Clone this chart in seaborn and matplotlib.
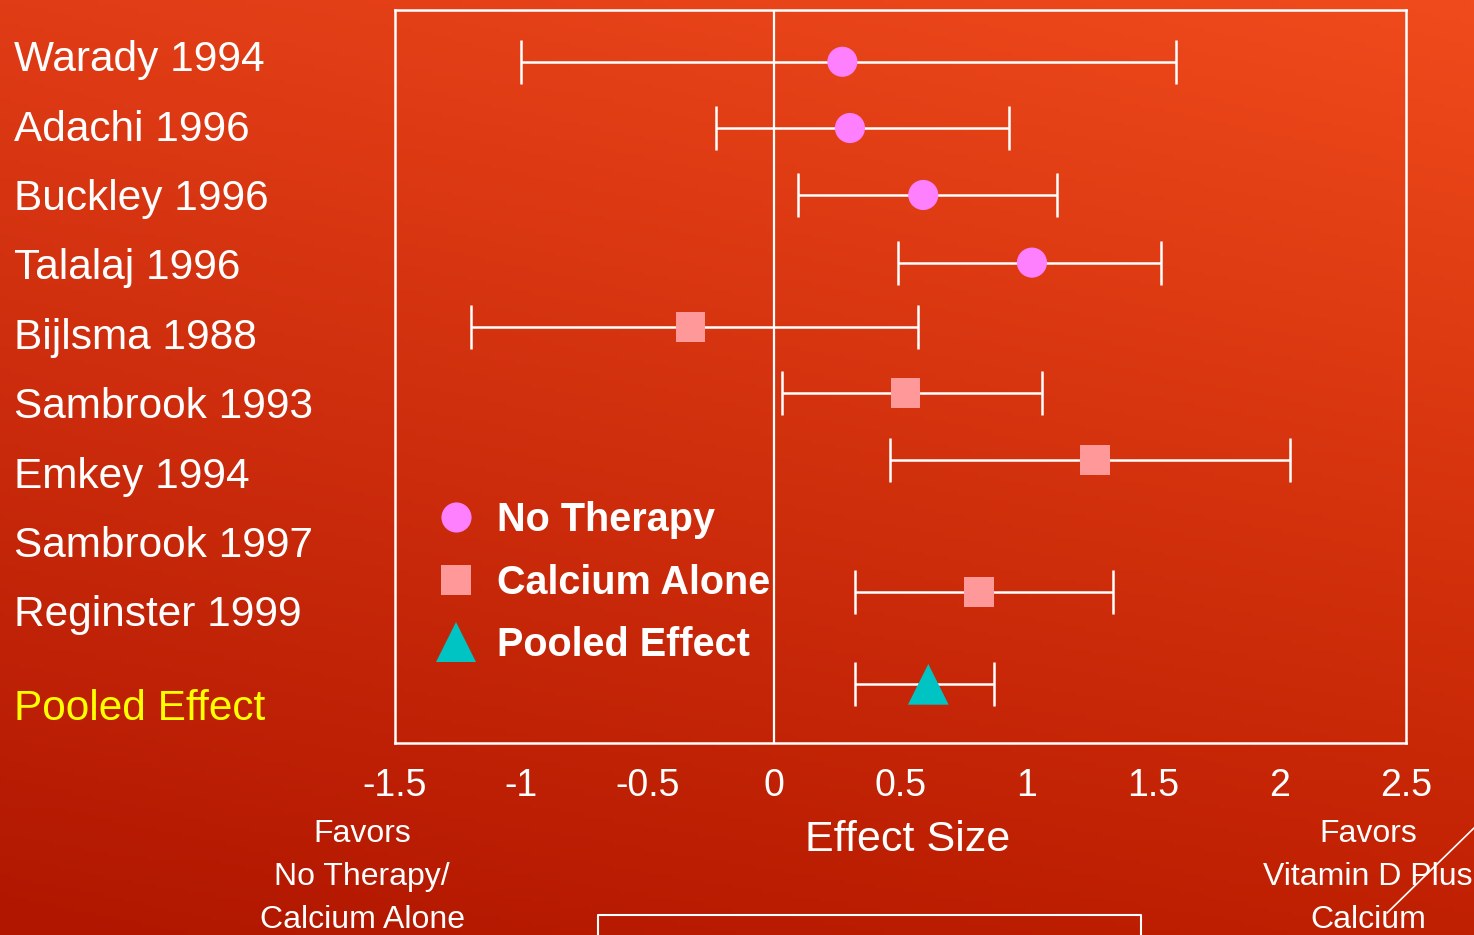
import numpy as np
import pandas as pd
import matplotlib
matplotlib.use('Agg')
import matplotlib.pyplot as plt
import seaborn as sns
from matplotlib.lines import Line2D

# study labels shown on the left, with their row positions
study_labels = ['Warady 1994', 'Adachi 1996', 'Buckley 1996', 'Talalaj 1996', 'Bijlsma 1988',
                'Sambrook 1993', 'Emkey 1994', 'Sambrook 1997', 'Reginster 1999', 'Pooled Effect']
label_rows = [0.72, 1.74, 2.74, 3.74, 4.75, 5.75, 6.76, 7.76, 8.76, 10.13]

# studies with an estimate drawn in the plot
studies = ['Warady 1994', 'Adachi 1996', 'Buckley 1996', 'Talalaj 1996', 'Bijlsma 1988',
           'Sambrook 1993', 'Emkey 1994', 'Reginster 1999', 'Pooled Effect']
effect = [0.27, 0.30, 0.59, 1.02, -0.33, 0.52, 1.27, 0.81, 0.61]
ci_low = [-1.00, -0.23, 0.095, 0.49, -1.20, 0.03, 0.46, 0.32, 0.32]
ci_high = [1.59, 0.93, 1.12, 1.53, 0.57, 1.06, 2.04, 1.34, 0.87]
rows = [0.75, 1.71, 2.68, 3.66, 4.59, 5.55, 6.52, 8.43, 9.77]
group = ['No Therapy'] * 4 + ['Calcium Alone'] * 4 + ['Pooled Effect']

xticks = [-1.5, -1, -0.5, 0, 0.5, 1, 1.5, 2, 2.5]
xtick_labels = ['-1.5', '-1', '-0.5', '0', '0.5', '1', '1.5', '2', '2.5']

df = pd.DataFrame({'study': studies, 'effect': effect, 'low': ci_low, 'high': ci_high,
                   'row': rows, 'group': group})

sns.set_theme(style='white')
plt.rcParams['font.family'] = ['Liberation Sans', 'DejaVu Sans']

fig = plt.figure(figsize=(14.74, 9.35), dpi=100)

# red gradient background
bg = fig.add_axes([0, 0, 1, 1], zorder=-10)
h, w = 200, 300
yy, xx = np.mgrid[0:1:h * 1j, 0:1:w * 1j]
tl = np.array([224, 60, 22]) / 255
tr = np.array([240, 75, 28]) / 255
bl = np.array([176, 22, 0]) / 255
br = np.array([192, 32, 2]) / 255
img = ((1 - yy)[..., None] * ((1 - xx)[..., None] * tl + xx[..., None] * tr)
       + yy[..., None] * ((1 - xx)[..., None] * bl + xx[..., None] * br))
bg.imshow(img, aspect='auto', extent=[0, 1, 0, 1], origin='upper')
bg.set_axis_off()

ax = fig.add_axes([395 / 1474, 1 - 743 / 935, (1406 - 395) / 1474, (743 - 10) / 935])
ax.set_facecolor('none')

colors = {'No Therapy': '#FF80FF', 'Calcium Alone': '#FF9999', 'Pooled Effect': '#00C3C3'}
markers = {'No Therapy': 'o', 'Calcium Alone': 's', 'Pooled Effect': '^'}
sizes = {'No Therapy': 470, 'Calcium Alone': 450, 'Pooled Effect': 860}

# confidence intervals
ax.errorbar(df['effect'], df['row'],
            xerr=[df['effect'] - df['low'], df['high'] - df['effect']],
            fmt='none', ecolor='white', elinewidth=1.8, capsize=15.5, capthick=1.8, zorder=2)
ax.axvline(0, color='white', lw=1.6, zorder=1)

for g in ['No Therapy', 'Calcium Alone', 'Pooled Effect']:
    sub = df[df['group'] == g]
    sns.scatterplot(data=sub, x='effect', y='row', marker=markers[g], color=colors[g],
                    s=sizes[g], edgecolor='none', linewidth=0, ax=ax, zorder=3, legend=False)

ax.set_xlim(-1.5, 2.5)
ax.set_ylim(10.62, 0)
ax.set_xticks(xticks)
ax.set_xticklabels(xtick_labels)
ax.set_yticks([])
ax.set_xlabel('')
ax.set_ylabel('')
ax.tick_params(axis='x', direction='in', length=16, width=1.6, colors='white',
               labelsize=27, pad=18, labelcolor='white')
for t in ax.xaxis.get_major_ticks():
    if t.get_loc() in (-1.5, 0, 2.5):
        t.tick1line.set_visible(False)
for s in ax.spines.values():
    s.set_visible(True)
    s.set_color('white')
    s.set_linewidth(1.8)

# left study labels
for lab, r in zip(study_labels, label_rows):
    c = '#FFFF00' if lab == 'Pooled Effect' else 'white'
    ax.text(-0.377, r, lab, transform=ax.get_yaxis_transform(), ha='left', va='center',
            fontsize=30.5, color=c)

# legend
handles = [Line2D([], [], ls='none', marker=markers[g], color=colors[g], markeredgewidth=0,
                  markersize=np.sqrt(sizes[g])) for g in colors]
leg = ax.legend(handles, list(colors), loc='upper left', bbox_to_anchor=(0.042, 0.33),
                frameon=False, handlelength=0.95, handletextpad=0.55, labelspacing=0.62,
                borderpad=0, borderaxespad=0, prop={'weight': 'bold', 'size': 28.5})
for t in leg.get_texts():
    t.set_color('white')

fig.text(908 / 1474, 1 - 840 / 935, 'Effect Size', ha='center', va='center', fontsize=31,
         color='white')
fig.text(362 / 1474, 1 - 877 / 935, 'Favors\nNo Therapy/\nCalcium Alone', ha='center',
         va='center', fontsize=23, color='white', linespacing=1.57)
fig.text(1368 / 1474, 1 - 877 / 935, 'Favors\nVitamin D Plus\nCalcium', ha='center',
         va='center', fontsize=23, color='white', linespacing=1.57)

# decorative shapes from the slide
fig.add_artist(Line2D([1387 / 1474, 1], [1 - 913 / 935, 1 - 828 / 935], color='white', lw=1.2))
fig.add_artist(Line2D([598 / 1474, 598 / 1474, 1141 / 1474, 1141 / 1474],
                      [0, 1 - 915 / 935, 1 - 915 / 935, 0], color='white', lw=1.5))

fig.savefig('out.png', dpi=100)
